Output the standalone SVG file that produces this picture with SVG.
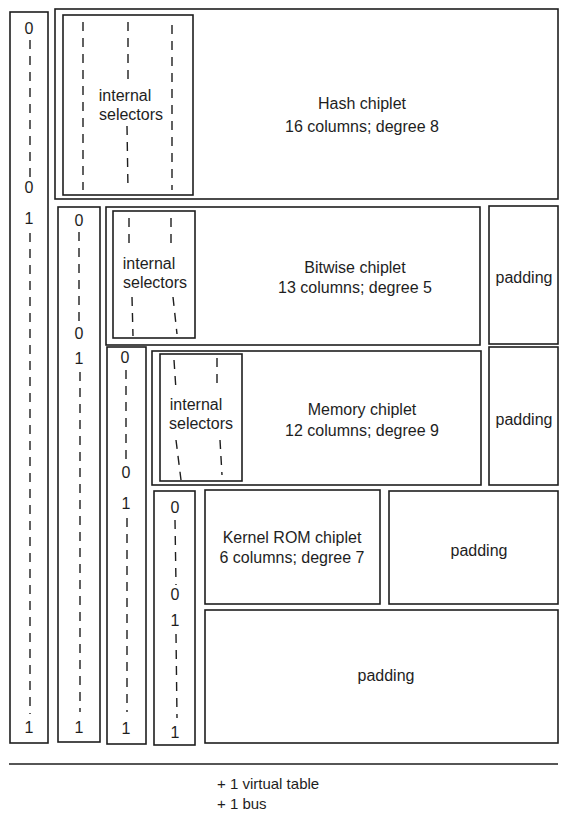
<svg xmlns="http://www.w3.org/2000/svg" width="570" height="824" viewBox="0 0 570 824">
<style>
.b{fill:#fff;stroke:#1e1e1e;stroke-width:1.6}
.d{stroke:#1e1e1e;stroke-width:1.4;stroke-dasharray:9 7;fill:none}
text{font-family:"Liberation Sans","DejaVu Sans",sans-serif;font-size:16px;fill:#1e1e1e;text-anchor:middle}
.l{text-anchor:start;font-size:15px}
</style>
<rect width="570" height="824" fill="#fff"/>
<g id="col1">
<rect class="b" x="10" y="12" width="38" height="731"/>
<text x="29" y="34">0</text>
<line class="d" x1="30" y1="40" x2="30" y2="178"/>
<text x="29" y="193">0</text>
<text x="29" y="224">1</text>
<line class="d" x1="30" y1="233" x2="30" y2="714"/>
<text x="29" y="733">1</text>
</g>
<g id="hash">
<rect class="b" x="55" y="9" width="503" height="190"/>
<text x="362" y="109">Hash chiplet</text>
<text x="362" y="132">16 columns; degree 8</text>
</g>
<g id="hash-selectors">
<rect class="b" x="63" y="15" width="130" height="180"/>
<line class="d" x1="83" y1="22" x2="83" y2="190"/>
<line class="d" x1="128" y1="22" x2="128" y2="82"/>
<line class="d" x1="127" y1="126" x2="128" y2="190"/>
<line class="d" x1="172" y1="25" x2="172" y2="190"/>
<text x="125" y="101">internal</text>
<text x="131" y="120">selectors</text>
</g>
<g id="col2">
<rect class="b" x="58" y="207" width="42" height="535"/>
<text x="79" y="226">0</text>
<line class="d" x1="79" y1="232" x2="79" y2="322"/>
<text x="79" y="339">0</text>
<text x="79" y="364">1</text>
<line class="d" x1="80" y1="372" x2="80" y2="712"/>
<text x="79" y="733">1</text>
</g>
<g id="bitwise">
<rect class="b" x="106" y="207" width="374" height="138"/>
<text x="355" y="273">Bitwise chiplet</text>
<text x="355" y="293">13 columns; degree 5</text>
</g>
<g id="bitwise-selectors">
<rect class="b" x="113" y="211" width="82" height="127"/>
<line class="d" x1="129" y1="218" x2="129" y2="248"/>
<line class="d" x1="171" y1="218" x2="171" y2="248"/>
<line class="d" x1="132" y1="297" x2="133" y2="336"/>
<line class="d" x1="173" y1="297" x2="177" y2="334"/>
<text x="149" y="269">internal</text>
<text x="155" y="288">selectors</text>
</g>
<g id="pad1">
<rect class="b" x="489" y="206" width="69" height="138"/>
<text x="524" y="283">padding</text>
</g>
<g id="col3">
<rect class="b" x="107" y="347" width="39" height="397"/>
<text x="125" y="363">0</text>
<line class="d" x1="126" y1="370" x2="126" y2="462"/>
<text x="126" y="478">0</text>
<text x="126" y="509">1</text>
<line class="d" x1="127" y1="518" x2="127" y2="712"/>
<text x="126" y="734">1</text>
</g>
<g id="memory">
<rect class="b" x="152" y="351" width="329" height="134"/>
<text x="362" y="415">Memory chiplet</text>
<text x="362" y="436">12 columns; degree 9</text>
</g>
<g id="memory-selectors">
<rect class="b" x="160" y="354" width="82" height="127"/>
<line class="d" x1="174" y1="360" x2="176" y2="390"/>
<line class="d" x1="217" y1="358" x2="217" y2="390"/>
<line class="d" x1="176" y1="440" x2="181" y2="480"/>
<line class="d" x1="220" y1="440" x2="222" y2="475"/>
<text x="196" y="410">internal</text>
<text x="201" y="429">selectors</text>
</g>
<g id="pad2">
<rect class="b" x="489" y="347" width="69" height="138"/>
<text x="524" y="425">padding</text>
</g>
<g id="col4">
<rect class="b" x="154" y="491" width="41" height="254"/>
<text x="175" y="513">0</text>
<line class="d" x1="175" y1="520" x2="176" y2="585"/>
<text x="175" y="600">0</text>
<text x="175" y="626">1</text>
<line class="d" x1="176" y1="634" x2="177" y2="718"/>
<text x="175" y="738">1</text>
</g>
<g id="kernel">
<rect class="b" x="205" y="490" width="175" height="114"/>
<text x="292" y="543">Kernel ROM chiplet</text>
<text x="292" y="563">6 columns; degree 7</text>
</g>
<g id="pad3">
<rect class="b" x="389" y="491" width="169" height="113"/>
<text x="479" y="556">padding</text>
</g>
<g id="pad4">
<rect class="b" x="205" y="610" width="353" height="133"/>
<text x="386" y="681">padding</text>
</g>
<g id="connectors">
<line x1="9" y1="764" x2="558" y2="764" stroke="#1e1e1e" stroke-width="1.6"/>
</g>
<g id="notes">
<text class="l" x="217" y="789">+ 1 virtual table</text>
<text class="l" x="217" y="809">+ 1 bus</text>
</g>
</svg>
